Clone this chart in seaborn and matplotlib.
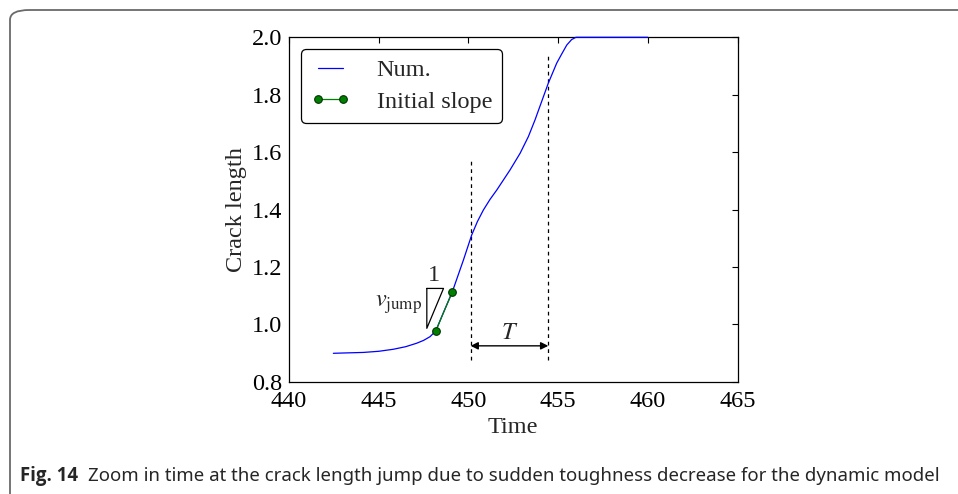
import numpy as np
import pandas as pd
import matplotlib
matplotlib.use("Agg")
import matplotlib.pyplot as plt
from matplotlib.patches import FancyBboxPatch
import seaborn as sns

# crack length vs time
time_num = [442.47, 443.0, 444.14, 445.0, 445.81, 446.5, 447.11, 447.5, 447.86,
            448.18, 448.6, 449.10, 449.72, 450.18, 450.5, 450.83, 451.2,
            451.58, 452.32, 452.88, 453.34, 453.71, 453.9, 454.45, 454.92,
            455.2, 455.48, 455.75, 455.99, 458.0, 460.0]
length_num = [0.899, 0.900, 0.902, 0.906, 0.913, 0.922, 0.934, 0.944, 0.957,
              0.977, 1.04, 1.113, 1.224, 1.311, 1.358, 1.398, 1.435,
              1.468, 1.538, 1.596, 1.654, 1.712, 1.745, 1.84, 1.91,
              1.942, 1.973, 1.992, 2.0, 2.0, 2.0]

# initial slope segment
time_slope = [448.18, 449.10]
length_slope = [0.977, 1.113]

# period markers
t_lines = [450.12, 454.45]
t_line_tops = [1.578, 1.945]

xticks = [440, 445, 450, 455, 460, 465]
yticks = [0.8, 1.0, 1.2, 1.4, 1.6, 1.8, 2.0]

sns.set_theme(style="white")
plt.rcParams["font.family"] = ["Liberation Serif", "DejaVu Serif"]
plt.rcParams["mathtext.fontset"] = "stix"

FS = 17.5

fig = plt.figure(figsize=(9.58, 4.94), dpi=100)
ax = fig.add_axes([0.3017, 0.2273, 0.4682, 0.6972])

df_num = pd.DataFrame({"Time": time_num, "Crack length": length_num})
df_slope = pd.DataFrame({"Time": time_slope, "Crack length": length_slope})

sns.lineplot(data=df_num, x="Time", y="Crack length", ax=ax, color="blue",
             lw=0.9, label="Num.", sort=False, zorder=4, clip_on=False)
sns.lineplot(data=df_slope, x="Time", y="Crack length", ax=ax, color="green",
             lw=0.9, marker="o", markersize=5.5, markerfacecolor="green",
             markeredgecolor="#003300", markeredgewidth=0.8,
             label="Initial slope", sort=False, zorder=5)

# dashed vertical lines
for tx, top in zip(t_lines, t_line_tops):
    ax.plot([tx, tx], [0.876, top], color="black", lw=0.9, ls=(0, (3, 3)))

# T arrow
ax.annotate("", xy=(t_lines[0], 0.925), xytext=(t_lines[1], 0.925),
            arrowprops=dict(arrowstyle="<|-|>", color="black", lw=1.0,
                            mutation_scale=11, shrinkA=0, shrinkB=0))
ax.text(452.3, 0.968, "$T$", fontsize=FS, ha="center", va="center")

# slope triangle
ax.plot([447.68, 448.61, 447.68, 447.68], [1.125, 1.125, 0.986, 1.125],
        color="black", lw=0.9)
ax.text(448.05, 1.17, "1", fontsize=FS, ha="center", va="center")
ax.text(447.4, 1.067, r"$v_{\mathrm{jump}}$", fontsize=FS, ha="right",
        va="center")

ax.set_xlim(440, 465)
ax.set_ylim(0.8, 2.0)
ax.set_xticks(xticks)
ax.set_yticks(yticks)
ax.set_xticklabels([str(v) for v in xticks])
ax.set_yticklabels([f"{v:.1f}" for v in yticks])
ax.tick_params(direction="in", length=4, width=0.8, top=True, right=True,
               labelsize=FS, colors="black")
ax.tick_params(axis="x", pad=7)
ax.tick_params(axis="y", pad=5)
ax.set_xlabel("Time", fontsize=FS, labelpad=3)
ax.set_ylabel("Crack length", fontsize=FS, labelpad=3)
for sp in ax.spines.values():
    sp.set_color("black")
    sp.set_linewidth(0.9)
ax.grid(False)

leg = ax.legend(loc="upper left", fontsize=FS, frameon=True, fancybox=True,
                edgecolor="black", framealpha=1, handlelength=1.6,
                handletextpad=1.1, borderaxespad=0.5, borderpad=0.4,
                labelspacing=0.4, numpoints=2)
leg.get_frame().set_linewidth(0.9)

# figure frame and caption
frame = FancyBboxPatch((10 / 958, -0.2), 1.2, (494 - 10) / 494 + 0.2,
                       boxstyle="round,pad=0,rounding_size=0.02",
                       transform=fig.transFigure, fill=False,
                       edgecolor="#6a6a6a", lw=1.3, clip_on=False)
fig.patches.append(frame)
fig.text(20 / 958, 1 - 476 / 494, "Fig. 14", fontsize=13.4, fontweight="bold",
         family=["Open Sans", "DejaVu Sans"], va="center", ha="left")
fig.text(88 / 958, 1 - 476 / 494,
         "Zoom in time at the crack length jump due to sudden toughness "
         "decrease for the dynamic model",
         fontsize=13.4, family=["Noto Sans", "DejaVu Sans"], va="center",
         ha="left")

fig.savefig("out.png", dpi=100)
